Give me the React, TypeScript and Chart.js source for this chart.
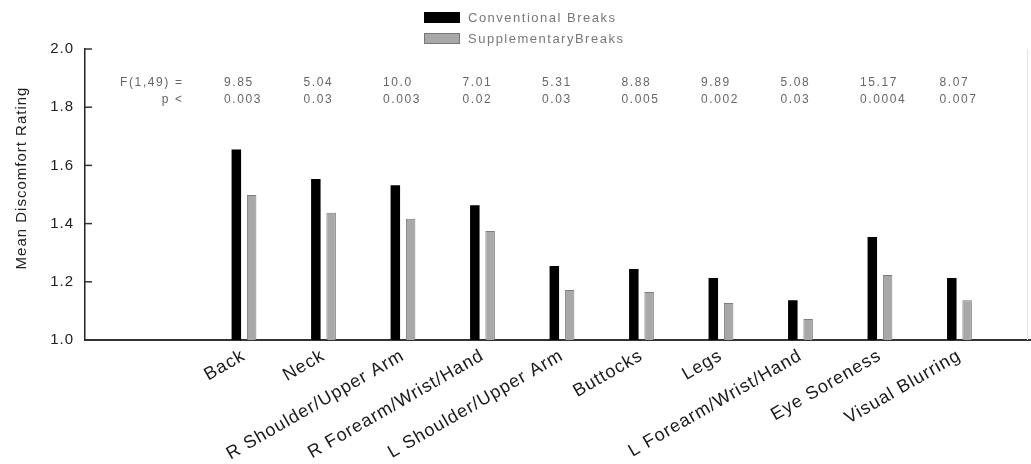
import React, { useEffect, useRef } from "react";
import { Chart, registerables } from "chart.js";

Chart.register(...registerables);

const categories = [
  "Back",
  "Neck",
  "R Shoulder/Upper Arm",
  "R Forearm/Wrist/Hand",
  "L Shoulder/Upper Arm",
  "Buttocks",
  "Legs",
  "L Forearm/Wrist/Hand",
  "Eye Soreness",
  "Visual Blurring",
];
const conventional = [1.655, 1.553, 1.532, 1.463, 1.254, 1.244, 1.213, 1.137, 1.354, 1.213];
const supplementary = [1.498, 1.437, 1.417, 1.375, 1.172, 1.165, 1.127, 1.072, 1.223, 1.137];
const fValues = ["9.85", "5.04", "10.0", "7.01", "5.31", "8.88", "9.89", "5.08", "15.17", "8.07"];
const pValues = ["0.003", "0.03", "0.003", "0.02", "0.03", "0.005", "0.002", "0.03", "0.0004", "0.007"];
const statLabels = ["F(1,49) =", "p <"];
const seriesNames = ["Conventional Breaks", "SupplementaryBreaks"];
const yTickValues = [1.0, 1.2, 1.4, 1.6, 1.8, 2.0];
const yTitle = "Mean Discomfort Rating";

const FONT = "'Liberation Sans', Arial, sans-serif";

const overlayPlugin = {
  id: "overlay",
  beforeDraw(chart: any) {
    (chart.ctx as any).letterSpacing = "1px";
  },
  afterDraw(chart: any) {
    const ctx = chart.ctx as CanvasRenderingContext2D & { letterSpacing?: string };
    const xs = chart.scales.x;
    const ys = chart.scales.y;
    const area = chart.chartArea;
    ctx.save();
    // inward y ticks
    ctx.strokeStyle = "#333";
    ctx.lineWidth = 1.5;
    yTickValues.forEach((v) => {
      const y = ys.getPixelForValue(v);
      ctx.beginPath();
      ctx.moveTo(area.left, y);
      ctx.lineTo(area.left + 7, y);
      ctx.stroke();
    });
    // faint right border
    ctx.strokeStyle = "#e4e4e4";
    ctx.lineWidth = 1;
    ctx.beginPath();
    ctx.moveTo(area.right - 3.5, area.top);
    ctx.lineTo(area.right - 3.5, area.bottom);
    ctx.stroke();

    // stats
    ctx.fillStyle = "#666";
    ctx.font = `12px ${FONT}`;
    ctx.letterSpacing = "1.6px";
    ctx.textBaseline = "middle";
    const row1 = 83;
    const row2 = 100;
    ctx.textAlign = "right";
    const lx = xs.getPixelForValue(-1) + 19;
    ctx.fillText(statLabels[0], lx, row1);
    ctx.fillText(statLabels[1], lx, row2);
    ctx.textAlign = "left";
    categories.forEach((_, i) => {
      const cx = xs.getPixelForValue(i) - 20;
      ctx.fillText(fValues[i], cx, row1);
      ctx.fillText(pValues[i], cx, row2);
    });

    // legend
    const colors = [
      { fill: "#000", stroke: "#000" },
      { fill: "#a8a8a8", stroke: "#777" },
    ];
    ctx.font = `13px ${FONT}`;
    ctx.letterSpacing = "1.5px";
    seriesNames.forEach((name, i) => {
      const by = 12 + i * 21;
      ctx.fillStyle = colors[i].fill;
      ctx.fillRect(424, by, 36, 11);
      ctx.strokeStyle = colors[i].stroke;
      ctx.lineWidth = 1;
      ctx.strokeRect(424.5, by + 0.5, 35, 10);
      ctx.fillStyle = "#777";
      ctx.textAlign = "left";
      ctx.fillText(name, 468, by + 6);
    });

    // y title
    ctx.font = `15px ${FONT}`;
    ctx.letterSpacing = "1px";
    ctx.fillStyle = "#222";
    ctx.translate(22, 178);
    ctx.rotate(-Math.PI / 2);
    ctx.textAlign = "center";
    ctx.textBaseline = "middle";
    ctx.fillText(yTitle, 0, 0);
    ctx.restore();
  },
};

export default function App() {
  const ref = useRef<HTMLCanvasElement | null>(null);
  useEffect(() => {
    if (!ref.current) return;
    const chart = new Chart(ref.current, {
      type: "bar",
      data: {
        datasets: [
          {
            label: seriesNames[0],
            data: conventional.map((v, i) => ({ x: i, y: v })),
            backgroundColor: "#000",
            borderColor: "#000",
            borderWidth: 0,
          },
          {
            label: seriesNames[1],
            data: supplementary.map((v, i) => ({ x: i, y: v })),
            backgroundColor: "#a8a8a8",
            borderColor: "#7d7d7d",
            borderWidth: 1,
          },
        ],
      },
      options: {
        animation: false,
        responsive: false,
        maintainAspectRatio: false,
        categoryPercentage: 0.428,
        barPercentage: 0.62,
        layout: { padding: { top: 49, left: 0, right: 0, bottom: 0 } },
        plugins: {
          legend: { display: false },
          tooltip: { enabled: false },
          title: { display: false },
        },
        scales: {
          x: {
            type: "linear",
            offset: false,
            min: -2,
            max: 9.9,
            grid: { display: false, drawTicks: false, offset: false },
            border: { display: true, color: "#333", width: 2 },
            afterFit: (s: any) => {
              s.height = 124;
              s.paddingRight = 0;
              s.paddingLeft = 0;
            },
            ticks: {
              stepSize: 1,
              autoSkip: false,
              maxRotation: 30,
              minRotation: 30,
              padding: 5,
              color: "#1a1a1a",
              font: { family: FONT, size: 18 },
              callback: (v: any) =>
                Number.isInteger(v) && v >= 0 && v < categories.length ? categories[v] : "",
            },
          },
          y: {
            type: "linear",
            min: 1,
            max: 2,
            grid: { display: false, drawTicks: false },
            border: { display: true, color: "#222", width: 1.5 },
            afterFit: (s: any) => {
              s.width = 85;
            },
            afterBuildTicks: (s: any) => {
              s.ticks = yTickValues.map((v) => ({ value: v }));
            },
            ticks: {
              padding: 11,
              color: "#222",
              font: { family: FONT, size: 15 },
              callback: (v: any) => Number(v).toFixed(1),
            },
          },
        },
      },
      plugins: [overlayPlugin],
    } as any);
    return () => chart.destroy();
  }, []);
  return (
    <div style={{ position: "fixed", left: 0, top: 0, width: 1031, height: 464, background: "#fff" }}>
      <canvas ref={ref} width={1031} height={464} style={{ width: 1031, height: 464, display: "block" }} />
    </div>
  );
}
